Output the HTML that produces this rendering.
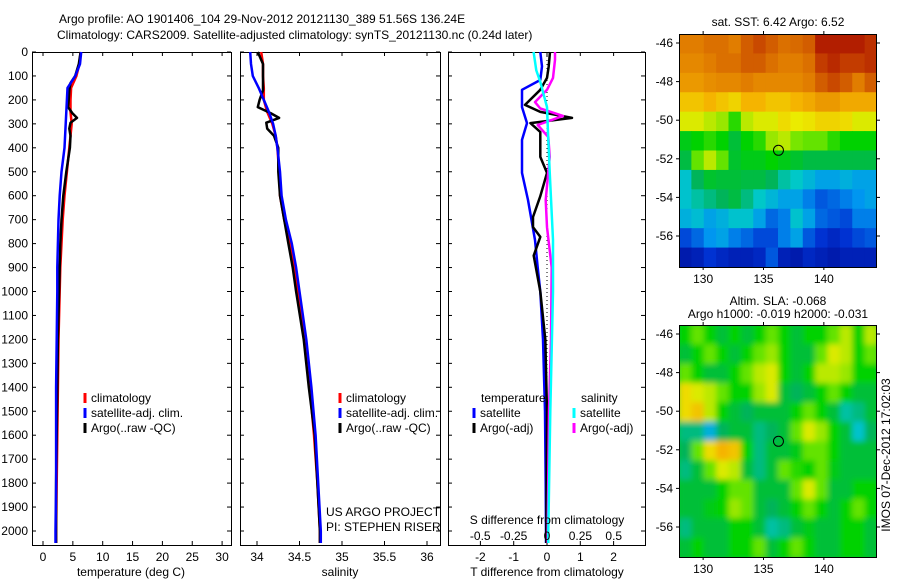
<!DOCTYPE html>
<html><head><meta charset="utf-8"><style>
html,body{margin:0;padding:0;background:#fff;}
svg{display:block;font-family:"Liberation Sans",sans-serif;}
text{font-size:12px;fill:#000;}
</style></head><body>
<svg id="fig" width="900" height="580" viewBox="0 0 900 580" xmlns="http://www.w3.org/2000/svg">
<defs><filter id="blur" x="0" y="0" width="1" height="1"><feGaussianBlur stdDeviation="3"/></filter>
<clipPath id="clipTop"><rect x="679" y="34" width="198" height="233"/></clipPath>
<clipPath id="clipBot"><rect x="679" y="325" width="198" height="232"/></clipPath></defs>
<text x="59" y="23">Argo profile: AO 1901406_104 29-Nov-2012 20121130_389 51.56S 136.24E</text>
<text x="57" y="39">Climatology: CARS2009. Satellite-adjusted climatology: synTS_20121130.nc (0.24d later)</text>
<g id="g"></g>
</svg>
<script>
// ---- profile data ----
const climDepth=[0,50,100,150,200,250,300,350,400,500,600,700,800,900,1000,1200,1400,1600,1800,2000,2050];
const climT=[6.3,6.1,5.6,4.7,4.6,4.6,4.8,4.6,4.4,4.0,3.6,3.3,3.1,2.9,2.8,2.6,2.5,2.4,2.3,2.2,2.2];
const satDepth=[0,50,100,150,200,250,300,350,400,500,600,700,800,900,1000,1200,1400,1600,1800,2000,2050];
const satT=[6.4,6.2,5.4,4.1,4.0,3.9,3.8,3.7,3.6,3.1,2.8,2.6,2.5,2.4,2.4,2.3,2.2,2.2,2.2,2.1,2.1];
const argoDepth=[0,50,100,130,160,200,230,255,275,295,320,350,400,500,600,700,800,900,1000,1200,1400,1600,1800,2000,2050];
const argoT=[6.3,6.0,5.4,4.6,4.4,4.3,4.2,4.9,5.7,4.6,4.4,4.6,4.5,3.9,3.4,3.1,2.9,2.8,2.7,2.5,2.4,2.3,2.2,2.2,2.2];
const climS=[34.05,34.07,34.07,34.08,34.08,34.12,34.18,34.22,34.24,34.26,34.27,34.32,34.39,34.44,34.48,34.56,34.62,34.67,34.71,34.74,34.74];
const satS=[33.92,33.93,33.95,34.02,34.08,34.14,34.19,34.22,34.24,34.27,34.29,34.34,34.41,34.46,34.50,34.58,34.64,34.69,34.72,34.75,34.75];
const argoS=[34.01,34.07,34.07,34.07,34.07,34.03,34.01,34.16,34.26,34.11,34.12,34.2,34.25,34.25,34.27,34.32,34.37,34.42,34.46,34.55,34.61,34.68,34.71,34.74,34.74];
const dSatTDepth=[0,60,117,158,230,297,367,505,618,785,900,1000,1200,1500,1800,2000,2050];
const dSatT=[-0.2,-0.15,-0.2,-0.75,-0.75,-0.6,-0.75,-0.75,-0.57,-0.36,-0.28,-0.2,-0.12,-0.06,-0.04,-0.03,-0.03];
const dArgoTDepth=[0,60,108,158,221,250,275,297,334,438,505,602,689,731,772,850,1000,1200,1500,2000,2050];
const dArgoT=[0.09,0.05,0,-0.2,-0.66,-0.2,0.75,-0.5,-0.2,-0.2,0,-0.2,-0.42,-0.42,-0.2,-0.4,-0.2,-0.05,0,-0.02,-0.02];
const dSatSDepth=[0,77,125,230,367,500,785,1000,1500,2000,2050];
const dSatS=[-0.1,-0.08,-0.05,0,0.01,0.02,0.045,0.045,0.025,0.01,0.01];
const dArgoSDepth=[0,33,108,158,209,236,267,305,355,438,618,731,900,1200,1500,2000,2050];
const dArgoS=[0.06,0.06,0.045,0,-0.09,-0.05,0.12,-0.07,0.01,0.02,-0.01,0,0.035,0.03,0.015,0.005,0.005];
// ---- map grids (colormap index 0..1), 12 rows (north->south) x 16 cols ----
const sstGrid=[
[.8,.8,.82,.82,.8,.85,.88,.85,.82,.83,.85,.95,.95,.95,.95,.92],
[.78,.78,.8,.82,.82,.85,.85,.82,.8,.8,.82,.9,.93,.9,.9,.92],
[.75,.75,.77,.78,.78,.8,.78,.78,.78,.78,.8,.85,.88,.85,.8,.85],
[.68,.68,.7,.68,.66,.7,.7,.68,.68,.7,.72,.75,.75,.72,.72,.72],
[.62,.62,.6,.58,.52,.6,.62,.62,.65,.63,.64,.66,.66,.65,.62,.62],
[.48,.5,.52,.5,.45,.5,.52,.58,.6,.56,.55,.55,.52,.5,.5,.5],
[.44,.55,.6,.55,.46,.48,.48,.5,.48,.46,.44,.44,.44,.44,.44,.44],
[.35,.42,.46,.45,.45,.44,.44,.42,.38,.36,.33,.3,.3,.32,.3,.3],
[.35,.38,.4,.42,.44,.4,.36,.33,.3,.3,.25,.2,.22,.25,.28,.3],
[.32,.34,.3,.32,.35,.35,.3,.22,.25,.35,.3,.22,.2,.18,.25,.25],
[.18,.22,.28,.3,.25,.22,.18,.18,.25,.3,.2,.15,.12,.15,.18,.2],
[.08,.1,.15,.12,.1,.1,.12,.2,.1,.08,.12,.1,.08,.1,.1,.1]];
const slaGrid=[
[.5,.55,.5,.45,.5,.45,.5,.55,.5,.45,.5,.5,.55,.6,.5,.6],
[.45,.5,.55,.5,.45,.5,.55,.58,.5,.45,.45,.55,.62,.6,.5,.55],
[.55,.5,.45,.45,.5,.55,.6,.62,.5,.45,.5,.6,.6,.58,.5,.5],
[.65,.62,.6,.55,.5,.5,.58,.62,.45,.42,.45,.5,.55,.5,.45,.45],
[.65,.68,.6,.5,.45,.42,.45,.45,.45,.5,.55,.5,.45,.38,.4,.45],
[.4,.4,.32,.42,.45,.45,.4,.42,.45,.55,.62,.58,.5,.45,.35,.42],
[.42,.55,.65,.7,.68,.5,.4,.45,.45,.48,.55,.55,.5,.45,.45,.45],
[.4,.45,.55,.62,.6,.45,.4,.45,.55,.52,.5,.55,.48,.45,.45,.45],
[.45,.45,.45,.5,.55,.55,.45,.45,.45,.55,.62,.55,.45,.45,.5,.5],
[.45,.45,.48,.5,.58,.55,.45,.42,.45,.5,.55,.5,.45,.5,.55,.5],
[.4,.45,.45,.45,.5,.5,.45,.38,.4,.45,.48,.45,.45,.5,.5,.45],
[.45,.5,.45,.45,.5,.5,.55,.45,.5,.55,.5,.45,.45,.5,.5,.45]];
const depthTicks=[0,100,200,300,400,500,600,700,800,900,1000,1100,1200,1300,1400,1500,1600,1700,1800,1900,2000];
const tTicks=[0,5,10,15,20,25,30];
const sTicks=[34,34.5,35,35.5,36];
const dTTicks=[-2,-1,0,1,2];
const dSTicks=[-0.5,-0.25,0,0.25,0.5];
const latTicks=[-46,-48,-50,-52,-54,-56];
const lonTicks=[130,135,140];
const floatLon=136.24, floatLat=-51.56;

const NS='http://www.w3.org/2000/svg';
const G=document.getElementById('g');
function mk(tag,attrs,parent){const e=document.createElementNS(NS,tag);for(const k in attrs)e.setAttribute(k,attrs[k]);(parent||G).appendChild(e);return e;}
function txt(x,y,s,anchor){const t=mk('text',{x:x,y:y,'text-anchor':anchor||'start'});t.textContent=s;return t;}
const yD=d=>52+d*0.2395;
const xT=t=>43+t*5.97;
const xS=s=>257+(s-34)*85;
const xdT=v=>547+v*33.3;
const xdS=v=>547+v*133.5;
const Y0=52,Y1=545;
function line(depths,vals,fx,color,name){const p=depths.map((d,i)=>fx(vals[i]).toFixed(1)+','+yD(d).toFixed(1)).join(' ');
const l=mk('polyline',{points:p,fill:'none',stroke:color,'stroke-width':2.5,'stroke-linejoin':'round'});

}
function frame(x0,x1,name){const r=mk('rect',{x:x0+.5,y:Y0+.5,width:x1-x0,height:Y1-Y0,fill:'none',stroke:'#000','stroke-width':1});

}
function yticks(x0,x1,labels){depthTicks.forEach(d=>{const y=yD(d);mk('line',{x1:x0,y1:y,x2:x0+4,y2:y,stroke:'#000'});mk('line',{x1:x1,y1:y,x2:x1-4,y2:y,stroke:'#000'});
if(labels){const t=txt(x0-4,y+4,String(d),'end');}});}
function xticks(arr,fx,fmt,x0,x1){arr.forEach(v=>{const x=fx(v);mk('line',{x1:x,y1:Y1,x2:x,y2:Y1-4,stroke:'#000'});mk('line',{x1:x,y1:Y0,x2:x,y2:Y0+4,stroke:'#000'});
const t=txt(x,561,fmt(v),'middle');});}
function legendEntry(x,y,color,label){mk('line',{x1:x,y1:y-9,x2:x,y2:y+1,stroke:color,'stroke-width':3});const t=txt(x+6,y,label);

}

// panel 1 temperature
frame(32,231,'temperature-axes');yticks(32,231,true);xticks(tTicks,xT,String);
line(climDepth,climT,xT,'#f00','climatology-temperature');
line(argoDepth,argoT,xT,'#000','argo-temperature');
line(satDepth,satT,xT,'#00f','satellite-temperature');
txt(131,576,'temperature (deg C)','middle');
legendEntry(85,402,'#f00','climatology');legendEntry(85,417,'#00f','satellite-adj. clim.');legendEntry(85,432,'#000','Argo(..raw -QC)');
// panel 2 salinity
frame(240,440,'salinity-axes');yticks(240,440,false);xticks(sTicks,xS,v=>String(v));
line(climDepth,climS,xS,'#f00','climatology-salinity');
line(argoDepth,argoS,xS,'#000','argo-salinity');
line(satDepth,satS,xS,'#00f','satellite-salinity');
txt(340,576,'salinity','middle');
legendEntry(340,402,'#f00','climatology');legendEntry(340,417,'#00f','satellite-adj. clim.');legendEntry(340,432,'#000','Argo(..raw -QC)');
txt(326,516,'US ARGO PROJECT');txt(326,531,'PI: STEPHEN RISER');
// panel 3 differences
frame(448,645,'difference-axes');yticks(448,645,false);xticks(dTTicks,xdT,String);
mk('line',{x1:547,y1:Y0,x2:547,y2:Y1,stroke:'#000','stroke-dasharray':'1,3'});
line(dSatTDepth,dSatT,xdT,'#00f','satellite-temperature-difference');
line(dArgoTDepth,dArgoT,xdT,'#000','argo-temperature-difference');
line(dArgoSDepth,dArgoS,xdS,'#f0f','argo-salinity-difference');
line(dSatSDepth,dSatS,xdS,'#0ff','satellite-salinity-difference');
txt(481,402,'temperature');txt(581,402,'salinity');
legendEntry(474,417,'#00f','satellite');legendEntry(474,432,'#000','Argo(-adj)');
legendEntry(574,417,'#0ff','satellite');legendEntry(574,432,'#f0f','Argo(-adj)');
txt(547,524,'S difference from climatology','middle');
dSTicks.forEach(v=>{const t=txt(xdS(v),540,String(v),'middle');});
txt(547,576,'T difference from climatology','middle');

// maps
const cmapStops=[[0,[0,0,130]],[0.15,[0,50,210]],[0.28,[0,150,240]],[0.36,[0,200,200]],[0.42,[0,180,90]],[0.5,[0,210,0]],[0.56,[120,230,0]],[0.63,[235,235,0]],[0.7,[245,180,0]],[0.8,[225,125,0]],[0.9,[195,60,0]],[1,[160,0,0]]];
function cmap(v){for(let i=1;i<cmapStops.length;i++){const [a,ca]=cmapStops[i-1],[b,cb]=cmapStops[i];if(v<=b){const f=(v-a)/(b-a);return 'rgb('+ca.map((c,k)=>Math.round(c+(cb[k]-c)*f)).join(',')+')';}}return 'rgb(160,0,0)';}
function map(grid,top,bottom,clip,blur,name){const lonX=l=>679+(l-128)*12.07;const latY=la=>top+9+(-46-la)*19.3;
const g=mk('g',{'clip-path':'url(#'+clip+')'});
const inner=mk('g',blur?{filter:'url(#blur)'}:{},g);
const rows=grid.length,cols=grid[0].length;const cw=198/cols,rh=(bottom-top)/rows;
if(blur)mk('rect',{x:660,y:top-20,width:240,height:bottom-top+40,fill:cmap(.47)},inner);
grid.forEach((r,i)=>r.forEach((v,j)=>{mk('rect',{x:(679+j*cw).toFixed(2),y:(top+i*rh).toFixed(2),width:(cw+.6).toFixed(2),height:(rh+.6).toFixed(2),fill:cmap(v)},inner);}));
mk('rect',{x:679.5,y:top+.5,width:197,height:bottom-top,fill:'none',stroke:'#000'});
lonTicks.forEach(l=>{const x=lonX(l);mk('line',{x1:x,y1:bottom,x2:x,y2:bottom+3,stroke:'#000'});mk('line',{x1:x,y1:top,x2:x,y2:top-3,stroke:'#000'});txt(x,bottom+16,String(l),'middle');});
latTicks.forEach(la=>{const y=latY(la);mk('line',{x1:679,y1:y,x2:676,y2:y,stroke:'#000'});mk('line',{x1:877,y1:y,x2:880,y2:y,stroke:'#000'});txt(673,y+4,String(la),'end');});
const c=mk('circle',{cx:lonX(floatLon),cy:latY(floatLat),r:5,fill:'none',stroke:'#000'});}
map(sstGrid,34,267,'clipTop',false,'sst-map');
map(slaGrid,325,557,'clipBot',true,'sla-map');
txt(778,26,'sat. SST: 6.42 Argo: 6.52','middle');
txt(778,305,'Altim. SLA: -0.068','middle');
txt(778,318,'Argo h1000: -0.019 h2000: -0.031','middle');
const im=txt(0,0,'IMOS 07-Dec-2012 17:02:03','middle');im.setAttribute('transform','translate(890,455) rotate(-90)');


</script>
</body></html>
